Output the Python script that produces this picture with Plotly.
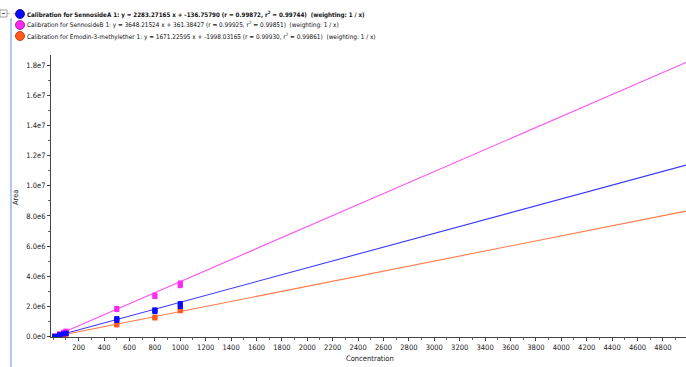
import plotly.graph_objects as go

# Calibration standards (concentration levels, replicate peak areas)
conc_a = [10, 10, 50, 50, 80, 100, 100, 500, 500, 500, 800, 800, 800, 1000, 1000, 1000]
area_a = [2.0e4, 2.4e4, 1.08e5, 1.18e5, 1.8e5, 2.15e5, 2.3e5,
          1.08e6, 1.15e6, 1.20e6, 1.66e6, 1.72e6, 1.78e6, 2.0e6, 2.1e6, 2.2e6]

conc_b = [10, 10, 50, 50, 80, 100, 100, 500, 500, 800, 800, 1000, 1000, 1000]
area_b = [3.4e4, 3.9e4, 1.75e5, 1.85e5, 2.9e5, 3.5e5, 3.7e5,
          1.80e6, 1.88e6, 2.66e6, 2.76e6, 3.38e6, 3.48e6, 3.56e6]

conc_e = [10, 10, 50, 50, 80, 100, 100, 500, 500, 800, 800, 1000, 1000]
area_e = [1.4e4, 1.7e4, 7.8e4, 8.4e4, 1.3e5, 1.6e5, 1.7e5,
          0.78e6, 0.82e6, 1.24e6, 1.29e6, 1.72e6, 1.82e6]

# Fitted calibration curves: slope, intercept
slope_a, icpt_a = 2283.27165, -136.75790
slope_b, icpt_b = 3648.21524, 361.38427
slope_e, icpt_e = 1671.22595, -1998.03165

legend_text = [
    "<b>Calibration for SennosideA 1: y = 2283.27165 x + -136.75790 (r = 0.99872, r<sup>2</sup> = 0.99744)  (weighting: 1 / x)</b>",
    "Calibration for SennosideB 1: y = 3648.21524 x + 361.38427 (r = 0.99925, r<sup>2</sup> = 0.99851)  (weighting: 1 / x)",
    "Calibration for Emodin-3-methylether 1: y = 1671.22595 x + -1998.03165 (r = 0.99930, r<sup>2</sup> = 0.99861)  (weighting: 1 / x)",
]

x_ticks = list(range(200, 4801, 200))
y_ticks = [0, 2e6, 4e6, 6e6, 8e6, 1e7, 1.2e7, 1.4e7, 1.6e7, 1.8e7]
y_ticktext = ["0.0e0", "2.0e6", "4.0e6", "6.0e6", "8.0e6",
              "1.0e7", "1.2e7", "1.4e7", "1.6e7", "1.8e7"]

X_MIN, X_MAX = -18, 4982
Y_MIN, Y_MAX = -2e4, 1.867e7

col_a, line_a = "#0a0aff", "#3a3aff"
col_b, line_b = "#ff2cf0", "#ff4cf4"
col_e, line_e = "#ff5a1a", "#ff7a48"

FONT = "Liberation Sans Narrow, DejaVu Sans Condensed, Arial Narrow, sans-serif"

fig = go.Figure()

fit_x = [0, X_MAX]
for slope, icpt, lc in [(slope_b, icpt_b, line_b), (slope_a, icpt_a, line_a), (slope_e, icpt_e, line_e)]:
    fig.add_trace(go.Scatter(
        x=fit_x, y=[slope * v + icpt for v in fit_x], mode="lines",
        line=dict(color=lc, width=1.1), hoverinfo="skip", showlegend=False))

for cx, ay, mc in [(conc_b, area_b, col_b), (conc_e, area_e, col_e), (conc_a, area_a, col_a)]:
    fig.add_trace(go.Scatter(
        x=cx, y=ay, mode="markers",
        marker=dict(symbol="square", size=5, color=mc, line=dict(width=0)),
        showlegend=False))

# Curve list above the plot
W, L, T, H = 686, 51, 55, 282
PW = W - L
def px_x(p):
    return (p - L) / PW
def px_y(p):
    return (T + H - p) / H

annotations = []
shapes = []
legend_rows = [(14, col_a, "#00008a", 6.2), (25, col_b, "#a000a0", 6.4), (36, col_e, "#b03000", 6.4)]
for (py, fill, edge, fs), txt in zip(legend_rows, legend_text):
    annotations.append(dict(
        xref="paper", yref="paper", x=px_x(25), y=px_y(py), xanchor="left", yanchor="middle",
        text=txt, showarrow=False, font=dict(family=FONT, size=fs, color="#111111")))
    shapes.append(dict(
        type="circle", xref="paper", yref="paper", xsizemode="pixel", ysizemode="pixel",
        xanchor=px_x(20), yanchor=px_y(py), x0=-4.5, x1=4.5, y0=-4.5, y1=4.5,
        fillcolor=fill, line=dict(color=edge, width=0.8)))

# Tree-view connector and collapse box at the left edge
shapes.append(dict(type="line", xref="paper", yref="paper",
                   x0=px_x(11), x1=px_x(11), y0=px_y(18), y1=px_y(367),
                   line=dict(color="#7aa6e6", width=1.2)))
shapes.append(dict(type="rect", xref="paper", yref="paper",
                   x0=px_x(0), x1=px_x(7), y0=px_y(10), y1=px_y(17),
                   line=dict(color="#8a8a8a", width=0.8), fillcolor="white"))
shapes.append(dict(type="line", xref="paper", yref="paper",
                   x0=px_x(1.8), x1=px_x(5.2), y0=px_y(13.5), y1=px_y(13.5),
                   line=dict(color="#333333", width=0.8)))
shapes.append(dict(type="line", xref="paper", yref="paper",
                   x0=px_x(7), x1=px_x(15), y0=px_y(13.5), y1=px_y(13.5),
                   line=dict(color="#9a9a9a", width=0.6, dash="dot")))

annotations.append(dict(
    xref="paper", yref="paper", x=px_x(15), y=px_y(197), xanchor="center", yanchor="middle",
    text="Area", textangle=-90, showarrow=False, font=dict(family=FONT, size=7.5, color="#222222")))
annotations.append(dict(
    xref="paper", yref="paper", x=px_x(370), y=px_y(358), xanchor="center", yanchor="middle",
    text="Concentration", showarrow=False, font=dict(family=FONT, size=7.5, color="#222222")))

fig.update_layout(
    width=W, height=367,
    margin=dict(l=L, r=0, t=T, b=367 - T - H, pad=0),
    paper_bgcolor="white", plot_bgcolor="white",
    showlegend=False,
    annotations=annotations, shapes=shapes,
    xaxis=dict(
        range=[X_MIN, X_MAX], tickmode="array", tickvals=x_ticks,
        showgrid=False, zeroline=False, showline=True, linecolor="#444444", linewidth=1,
        ticks="outside", ticklen=3, tickcolor="#444444",
        minor=dict(ticks="outside", ticklen=2, tickcolor="#666666", dtick=100, tick0=0),
        tickfont=dict(family=FONT, size=7.5, color="#222222")),
    yaxis=dict(
        range=[Y_MIN, Y_MAX], tickmode="array", tickvals=y_ticks, ticktext=y_ticktext,
        showgrid=False, zeroline=False, showline=True, linecolor="#444444", linewidth=1,
        ticks="outside", ticklen=3, tickcolor="#444444",
        minor=dict(ticks="outside", ticklen=2, tickcolor="#666666", dtick=1e6, tick0=0),
        tickfont=dict(family=FONT, size=7.5, color="#222222")),
)

fig.write_html("out.html")
